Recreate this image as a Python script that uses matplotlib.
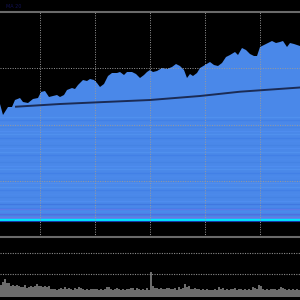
"""Stock area chart with moving average and volume strip, dark theme."""

import numpy as np
import matplotlib
matplotlib.use("Agg")
import matplotlib.pyplot as plt

# Price series (day index, close)
days = [0, 3, 8, 12, 15, 20, 23, 28, 33, 38, 41, 45, 49, 53, 57, 60, 64, 67,
        72, 75, 78, 83, 87, 90, 94, 97, 100, 104, 108, 112, 117, 120, 124,
        127, 132, 136, 140, 144, 147, 150, 153, 157, 162, 167, 172, 176, 180,
        184, 187, 190, 193, 197, 200, 205, 210, 214, 218, 222, 226, 230, 235,
        238, 242, 246, 250, 254, 257, 260, 264, 268, 272, 276, 280, 283, 287,
        290, 294, 297, 300]
close = [116, 105, 113, 113, 120, 122, 118, 117, 121, 122, 128, 129, 123, 124,
         125, 123, 125, 130, 132, 131, 135, 140, 139, 141, 140, 137, 133, 136,
         144, 147, 147, 148, 145, 148, 148, 146, 142, 145, 148, 150, 148, 149,
         152, 151, 153, 156, 154, 150, 142, 146, 144, 147, 152, 155, 158, 155,
         154, 157, 163, 165, 168, 165, 172, 170, 166, 164, 164, 173, 175, 177,
         179, 177, 178, 179, 173, 177, 176, 175, 174]

# Moving average
ma_days = [16, 60, 100, 150, 200, 240, 300]
ma_vals = [113.3, 116, 117.8, 120, 124, 128.3, 132.5]

# Volume bars, one every two days
volume = [30, 38, 47, 35, 35, 27, 30, 27, 30, 28, 25, 25, 30, 23, 25, 27, 25,
          27, 33, 28, 27, 25, 27, 25, 27, 20, 20, 20, 18, 20, 22, 20, 25, 20,
          22, 20, 18, 23, 20, 25, 22, 20, 18, 20, 18, 20, 20, 20, 20, 18, 20,
          18, 20, 25, 25, 20, 18, 20, 22, 20, 18, 20, 18, 20, 20, 22, 22, 17,
          22, 20, 18, 20, 18, 22, 19,
          65, 27, 23, 23, 20, 22, 20, 20, 22, 22, 20, 20, 22, 18, 25, 20, 23,
          32, 25, 27, 20, 20, 23, 20, 20, 17, 20, 18, 20, 18, 18, 17, 20, 18,
          25, 20, 23, 18, 20, 18, 20, 20, 23, 18, 20, 20, 18, 20, 18, 20, 18,
          25, 23, 20, 30, 28, 20, 18, 20, 18, 20, 20, 20, 18, 20, 25, 23, 20,
          18, 20, 18, 20, 18, 20, 18]
vol_days = [1 + 2 * i for i in range(len(volume))]

price_grid = [39, 95.5, 152]
time_grid = [39.5, 94.5, 150, 205, 260]
vol_grid = [58.7, 112]

fig = plt.figure(figsize=(3, 3), dpi=100, facecolor="black")

# ---- price panel
ax = fig.add_axes([0, 63 / 300, 1, 225 / 300], facecolor="black")
ax.fill_between(days, close, 0, color="#4a88e9", linewidth=0, zorder=1)

# faint horizontal banding inside the area
band_cols = ["#4f8def", "#4583e4", "#4b89eb", "#4280e6", "#5090ee"]
for i, lvl in enumerate(np.arange(2, 104, 3.5)):
    ax.axhline(lvl, color=band_cols[i % len(band_cols)], lw=0.9, zorder=1.5)
for lvl, col in [(3, "#6a78e0"), (6, "#4e6fe0"), (11, "#5d7ae8"), (16, "#3f78e0")]:
    ax.axhline(lvl, color=col, lw=1.0, zorder=1.6)
ax.axhline(0.3, color="#00e6ff", lw=1.6, zorder=2)
ax.axhline(-1.4, color="#1538a8", lw=0.8, zorder=2)

ax.plot(ma_days, ma_vals, color="#1b2b55", lw=1.4, zorder=3)

for y in price_grid:
    ax.axhline(y, color="#9a9a9a", lw=0.7, ls=(0, (1, 1.5)), zorder=2.5)
for x in time_grid:
    ax.axvline(x, color="#9a9a9a", lw=0.7, ls=(0, (1, 1.5)), zorder=2.5)

ax.set_xlim(0, 300)
ax.set_ylim(-17, 208)
ax.set_xticks([])
ax.set_yticks([])
for side in ("left", "right"):
    ax.spines[side].set_visible(False)
for side in ("top", "bottom"):
    ax.spines[side].set_color("#6a6a6a")
    ax.spines[side].set_linewidth(1.5)

# ---- volume panel
vax = fig.add_axes([0, 3 / 300, 1, 47 / 300], facecolor="black")
vax.bar(vol_days, volume, width=1.3, color="#6c6c6c", linewidth=0)
for y in vol_grid:
    vax.axhline(y, color="#8a8a8a", lw=0.8, ls=(0, (1, 1.2)))
vax.set_xlim(0, 300)
vax.set_ylim(0, 120)
vax.axis("off")

fig.text(0.02, 0.985, "MA 20", color="#121255", fontsize=3.5, va="top")

plt.savefig("out.png", dpi=100, facecolor="black")
plt.close()
